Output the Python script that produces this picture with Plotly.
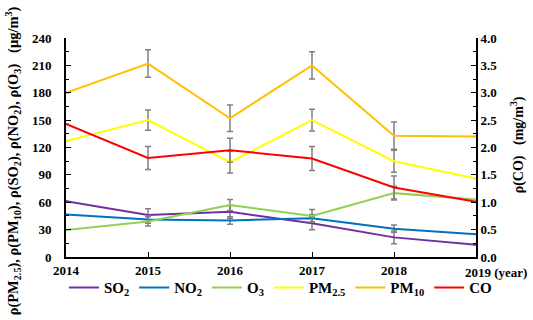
import plotly.graph_objects as go

years = [2014, 2015, 2016, 2017, 2018, 2019]
so2 = [61, 46, 49.5, 37, 21.5, 13.5]
no2 = [46.5, 41, 40, 42.5, 31, 25]
o3 = [29.5, 39, 57, 45, 70, 63]
pm25 = [127, 150, 104, 150, 105, 86]
pm10 = [180, 212, 152, 210, 133, 132]
co = [2.43, 1.81, 1.95, 1.80, 1.27, 1.01]

so2_err = [None, 7, 7, 7, 7, None]
no2_err = [None, 4, 4, 4, 4, None]
o3_err = [None, 5, 6, 7, 7.5, None]
pm25_err = [None, 11, 12, 12, 12, None]
pm10_err = [None, 15, 14.5, 15, 15, None]
co_err = [None, 0.21, 0.22, 0.22, 0.21, None]

series = [
    ("SO<sub>2</sub>", so2, so2_err, "#7030A0", "y"),
    ("NO<sub>2</sub>", no2, no2_err, "#0070C0", "y"),
    ("O<sub>3</sub>", o3, o3_err, "#92D050", "y"),
    ("PM<sub>2.5</sub>", pm25, pm25_err, "#FFFF00", "y"),
    ("PM<sub>10</sub>", pm10, pm10_err, "#FFC000", "y"),
    ("CO", co, co_err, "#FF0000", "y2"),
]

FONT = "Liberation Serif"
fig = go.Figure()
for name, vals, err, color, ax in series:
    fig.add_trace(go.Scatter(
        x=years, y=vals, name=name, mode="lines", yaxis=ax,
        line=dict(color=color, width=2),
        error_y=dict(type="data", array=err, visible=True, color="#808080",
                     thickness=1.5, width=3),
    ))

fig.update_layout(
    width=533, height=320,
    margin=dict(l=66, r=57, t=38, b=63, autoexpand=False),
    paper_bgcolor="white", plot_bgcolor="white",
    font=dict(family=FONT, color="black", size=13, weight="bold"),
    showlegend=True,
    legend=dict(orientation="h", x=-0.005, xanchor="left", y=-0.065, yanchor="top",
                itemwidth=30,
                font=dict(family=FONT, size=15, weight="bold"),
                bgcolor="rgba(0,0,0,0)", tracegroupgap=0),
    xaxis=dict(range=[2014, 2019], tickmode="array", tickvals=years,
               ticktext=["2014", "2015", "2016", "2017", "2018", ""],
               showline=True, linecolor="black", linewidth=2, automargin=False,
               ticks="inside", ticklen=5, tickcolor="black", showgrid=False,
               zeroline=False, tickfont=dict(family=FONT, size=13, weight="bold")),
    yaxis=dict(range=[0, 240], dtick=30, showline=True, linecolor="black", linewidth=2,
               ticks="inside", ticklen=5, tickcolor="black", showgrid=False, zeroline=False,
               minor=dict(dtick=15, ticks="inside", ticklen=3, tickcolor="black"),
               ticklabelstandoff=10, automargin=False,
               tickfont=dict(family=FONT, size=13, weight="bold")),
    yaxis2=dict(range=[0, 4], dtick=0.5, tickformat=".1f", overlaying="y", side="right",
                showline=True, linecolor="black", linewidth=2, automargin=False,
                ticks="inside", ticklen=5, tickcolor="black", showgrid=False, zeroline=False,
                minor=dict(dtick=0.25, ticks="inside", ticklen=3, tickcolor="black"),
                tickfont=dict(family=FONT, size=13, weight="bold")),
)

fig.add_annotation(x=2019, y=0, xref="x", yref="paper", text="2019 (year)",
                   xanchor="left", yanchor="top", xshift=-13, yshift=-6, showarrow=False,
                   font=dict(family=FONT, size=13, weight="bold"))
fig.add_annotation(x=-0.13, y=0.44, xref="paper", yref="paper",
                   text="ρ(PM<sub>2.5</sub>), ρ(PM<sub>10</sub>), ρ(SO<sub>2</sub>), ρ(NO<sub>2</sub>), ρ(O<sub>3</sub>)   (μg/m<sup>3</sup>)",
                   textangle=-90, showarrow=False, xanchor="center", yanchor="middle",
                   font=dict(family=FONT, size=14.5, weight="bold"))
fig.add_annotation(x=1.10, y=0.51, xref="paper", yref="paper",
                   text="ρ(CO)   (mg/m<sup>3</sup>)",
                   textangle=-90, showarrow=False, xanchor="center", yanchor="middle",
                   font=dict(family=FONT, size=14, weight="bold"))

fig.write_html("out.html", config={"displayModeBar": False},
               post_script="document.body.style.margin='0';")
